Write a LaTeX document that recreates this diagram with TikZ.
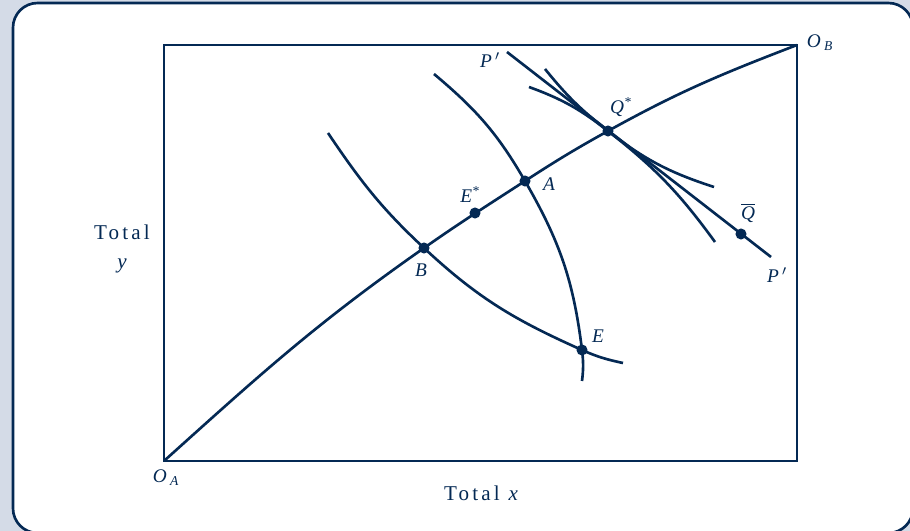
\documentclass[tikz,border=0pt]{standalone}
\usepackage{fontspec}
\setmainfont{Liberation Serif}
\newfontfamily\spaced[LetterSpace=15]{Liberation Serif}
\definecolor{ink}{RGB}{4,41,84}
\definecolor{bgblue}{RGB}{212,219,231}
\tikzset{crv/.style={ink,line width=1.5pt},pt/.style={circle,fill=ink,inner sep=0pt,minimum size=6.3pt},
lbl/.style={text=ink,inner sep=1pt,font=\fontsize{11}{13}\selectfont\itshape},
axl/.style={text=ink,inner sep=1pt,align=center,font=\fontsize{12}{16}\selectfont}}

\begin{document}
\begin{tikzpicture}[x=.02cm,y=.02cm]
\useasboundingbox (0,0) rectangle (910,531);
\fill[bgblue] (0,0) rectangle (910,531);
\begin{scope}\clip (0,0) rectangle (910,531);
\draw[ink,line width=1.5pt,fill=white,rounded corners=14pt] (13,-2) rectangle (913,528);
\end{scope}
% box and points
\coordinate (OA) at (164,70);\coordinate (OB) at (797,486);
\draw[ink,line width=.75pt] (OA) rectangle (OB);
\coordinate (pB) at (424,283);\coordinate (pEs) at (475,318);\coordinate (pA) at (525,350);
\coordinate (pQs) at (608,400);\coordinate (pQb) at (741,297);\coordinate (pE) at (582,181);
\coordinate (P1) at (507,479);\coordinate (P2) at (771,274);
\coordinate (uB1) at (328,398);\coordinate (uB2) at (623,168);
\coordinate (uA1) at (434,457);\coordinate (uA2) at (582,150);
\coordinate (cX1) at (529,444);\coordinate (cX2) at (714,344);
\coordinate (cY1) at (545,462);\coordinate (cY2) at (715,289);
% contract curve
\draw[crv] (OA) to[out=42,in=215] (pB) to[out=35,in=213] (pA) to[out=33,in=209] (pQs) to[out=29,in=201] (OB);
% indifference curves
\draw[crv] (uB1) to[out=-56,in=137] (pB) to[out=-43,in=156] (pE) to[out=-24,in=168] (uB2);
\draw[crv] (uA1) to[out=-40,in=120] (pA) to[out=-60,in=97] (pE) to[out=-83,in=83] (uA2);
\draw[crv] (cX1) to[out=-20,in=142] (pQs) to[out=-38,in=162] (cX2);
\draw[crv] (cY1) to[out=-51,in=142] (pQs) to[out=-38,in=126] (cY2);
\draw[crv] (P1) -- (P2);
% dots
\foreach \p in {B,Es,A,Qs,Qb,E}{\node[pt] (\p) at (p\p) {};}
% labels
\node[lbl] (lP1) at (490,471) {P\,$'$};\node[lbl] (lP2) at (777,256) {P\,$'$};
\node[lbl] (lQs) at (621,424) {Q\textsuperscript{*}};\node[lbl] (lQb) at (748,318) {$\overline{\textit{Q}}$};
\node[lbl] (lA) at (549,347) {A};\node[lbl] (lEs) at (470,336) {E\textsuperscript{*}};
\node[lbl] (lB) at (421,261) {B};\node[lbl] (lE) at (598,195) {E};
\node[lbl] (lOA) at (166,53) {O\,\textsubscript{A}};\node[lbl] (lOB) at (820,488) {O\,\textsubscript{B}};
\node[axl] (ly) at (122,282) {{\spaced Total}\\\textit{y}};
\node[axl] (lx) at (481,38) {{\spaced Total}\hspace{5pt}\textit{x}};
\end{tikzpicture}
\end{document}
